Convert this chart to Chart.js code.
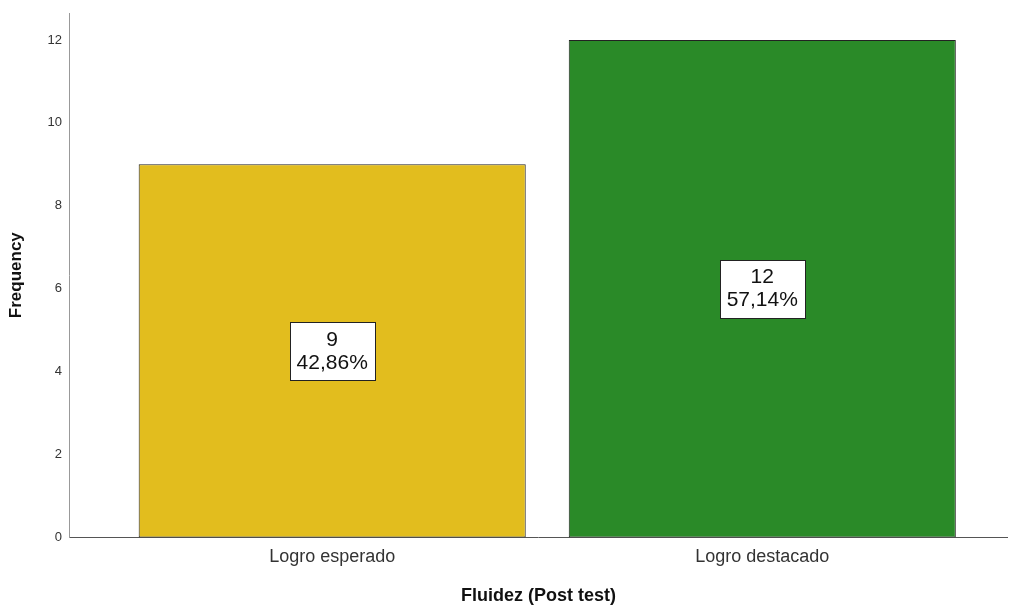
<!DOCTYPE html>
<html lang="es">
<head>
    <meta charset="UTF-8">
    <title>Fluidez (Post test)</title>
    <script src="https://cdn.jsdelivr.net/npm/chart.js"></script>
    <style>
        body { margin: 0; background: #fff; }
        #wrap { width: 1017px; height: 605px; }
    </style>
</head>
<body>
    <div id="wrap"><canvas id="fluidezChart" width="1017" height="605"></canvas></div>
    <script>
const categorias = ['Logro esperado', 'Logro destacado'];
const frecuencias = [9, 12];
const colores = ['#E2BD1E', '#2A8A28'];
const yTicks = [0, 2, 4, 6, 8, 10, 12];

const total = frecuencias.reduce((a, b) => a + b, 0);
const porcentajes = frecuencias.map(v => (v / total * 100).toFixed(2).replace('.', ',') + '%');

// etiquetas en cajas blancas en el centro de cada barra
const etiquetas = {
    id: 'etiquetas',
    afterDatasetsDraw(chart) {
        const ctx = chart.ctx;
        const meta = chart.getDatasetMeta(0);
        ctx.save();
        ctx.font = '21px "Liberation Sans", Arial, sans-serif';
        ctx.textAlign = 'center';
        ctx.textBaseline = 'middle';
        meta.data.forEach((bar, i) => {
            const lineas = [String(frecuencias[i]), porcentajes[i]];
            const w = Math.max(...lineas.map(l => ctx.measureText(l).width)) + 14;
            const h = 58;
            const cx = bar.x;
            const cy = (bar.y + bar.base) / 2;
            ctx.fillStyle = '#fff';
            ctx.fillRect(Math.round(cx - w / 2), Math.round(cy - h / 2), Math.round(w), h);
            ctx.strokeStyle = '#222';
            ctx.lineWidth = 1;
            ctx.strokeRect(Math.round(cx - w / 2) + 0.5, Math.round(cy - h / 2) + 0.5, Math.round(w), h);
            ctx.fillStyle = '#111';
            ctx.fillText(lineas[0], cx, cy - 11);
            ctx.fillText(lineas[1], cx, cy + 12);
        });
        ctx.restore();
    }
};

new Chart(document.getElementById('fluidezChart'), {
    type: 'bar',
    data: {
        datasets: [{
            data: frecuencias.map((v, i) => ({ x: i, y: v })),
            backgroundColor: colores,
            borderColor: '#222',
            borderWidth: 1,
            borderSkipped: false,
            barPercentage: 0.9,
            categoryPercentage: 1
        }]
    },
    options: {
        responsive: false,
        animation: false,
        layout: { padding: { top: 13, right: 10, left: 6, bottom: 0 } },
        plugins: {
            legend: { display: false },
            tooltip: { enabled: false }
        },
        scales: {
            x: {
                type: 'linear',
                offset: false,
                min: -0.61,
                max: 1.569,
                afterBuildTicks: s => { s.ticks = categorias.map((c, i) => ({ value: i })); },
                grid: { display: false },
                border: { display: true, color: '#555', width: 1 },
                ticks: {
                    callback: v => categorias[v],
                    color: '#333',
                    padding: 1,
                    font: { family: '"Liberation Sans", Arial, sans-serif', size: 18 }
                },
                title: {
                    display: true,
                    text: 'Fluidez (Post test)',
                    color: '#111',
                    padding: { top: 18, bottom: 0 },
                    font: { family: '"Liberation Sans", Arial, sans-serif', size: 18, weight: 'bold', lineHeight: 1 }
                }
            },
            y: {
                min: 0,
                max: 12.65,
                afterBuildTicks: s => { s.ticks = yTicks.map(v => ({ value: v })); },
                grid: { display: false },
                border: { display: true, color: '#999', width: 1 },
                ticks: {
                    color: '#333',
                    padding: 0,
                    font: { family: '"Liberation Sans", Arial, sans-serif', size: 13 }
                },
                title: {
                    display: true,
                    text: 'Frequency',
                    color: '#111',
                    padding: { top: 0, bottom: 21 },
                    font: { family: '"Liberation Sans", Arial, sans-serif', size: 17, weight: 'bold' }
                }
            }
        }
    },
    plugins: [etiquetas]
});
    </script>
</body>
</html>
